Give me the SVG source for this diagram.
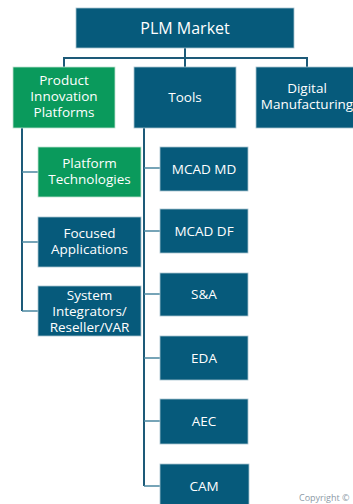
<svg xmlns="http://www.w3.org/2000/svg" width="353" height="504" viewBox="0 0 353 504">
<style>
.b{fill:#065a7b;stroke:#a9c3cf;stroke-width:0.8}
.g{fill:#0a9a5c;stroke:#bfe0cf;stroke-width:0.8}
.t{font-family:"Open Sans","Liberation Sans",sans-serif;font-size:13.5px;fill:#ffffff;text-anchor:middle}
.big{font-size:16px}
.m{stroke:#1d5a78;stroke-width:2;fill:none}
.br{stroke:#4a86a0;stroke-width:1.6;fill:none}
</style>
<rect width="353" height="504" fill="#ffffff"/>
<g id="connectors">
<path class="m" d="M185 48V58M64 67V58H307V67M185 58V67"/>
<path class="m" d="M22 128V311"/>
<path class="br" d="M22 172H38M22 242H38M22 311H38"/>
<path class="m" d="M144 128V486"/>
<path class="br" d="M144 168H160M144 231H160M144 294H160M144 358H160M144 421H160M144 486H160"/>
</g>
<g id="plm-market"><rect class="b" x="76" y="8" width="218" height="40"/><text class="t big" x="185" y="34">PLM Market</text></g>
<g id="product-innovation-platforms"><rect class="g" x="13" y="67" width="102" height="61"/><text class="t" x="64" y="85">Product</text><text class="t" x="64" y="101">Innovation</text><text class="t" x="64" y="117">Platforms</text></g>
<g id="tools"><rect class="b" x="134" y="67" width="102" height="61"/><text class="t" x="185" y="102">Tools</text></g>
<g id="digital-manufacturing"><rect class="b" x="256" y="67" width="100" height="61"/><text class="t" x="307" y="93">Digital</text><text class="t" x="307" y="109">Manufacturing</text></g>
<g id="platform-technologies"><rect class="g" x="38" y="147" width="103" height="50"/><text class="t" x="89.5" y="168">Platform</text><text class="t" x="89.5" y="184">Technologies</text></g>
<g id="focused-applications"><rect class="b" x="38" y="217" width="103" height="50"/><text class="t" x="89.5" y="238">Focused</text><text class="t" x="89.5" y="254">Applications</text></g>
<g id="system-integrators"><rect class="b" x="38" y="286" width="103" height="50"/><text class="t" x="89.5" y="300">System</text><text class="t" x="89.5" y="316">Integrators/</text><text class="t" x="89.5" y="332">Reseller/VAR</text></g>
<g id="mcad-md"><rect class="b" x="160" y="147" width="88" height="44"/><text class="t" x="204" y="174">MCAD MD</text></g>
<g id="mcad-df"><rect class="b" x="160" y="209" width="88" height="44"/><text class="t" x="204" y="236">MCAD DF</text></g>
<g id="s-a"><rect class="b" x="160" y="273" width="88" height="43"/><text class="t" x="204" y="299">S&amp;A</text></g>
<g id="eda"><rect class="b" x="160" y="336" width="88" height="44"/><text class="t" x="204" y="363">EDA</text></g>
<g id="aec"><rect class="b" x="160" y="399" width="88" height="45"/><text class="t" x="204" y="426">AEC</text></g>
<g id="cam"><rect class="b" x="160" y="464" width="89" height="44"/><text class="t" x="204" y="491">CAM</text></g>
<text x="299" y="501" font-family="'Open Sans','Liberation Sans',sans-serif" font-size="9" fill="#8c9aa6">Copyright ©</text>
</svg>
